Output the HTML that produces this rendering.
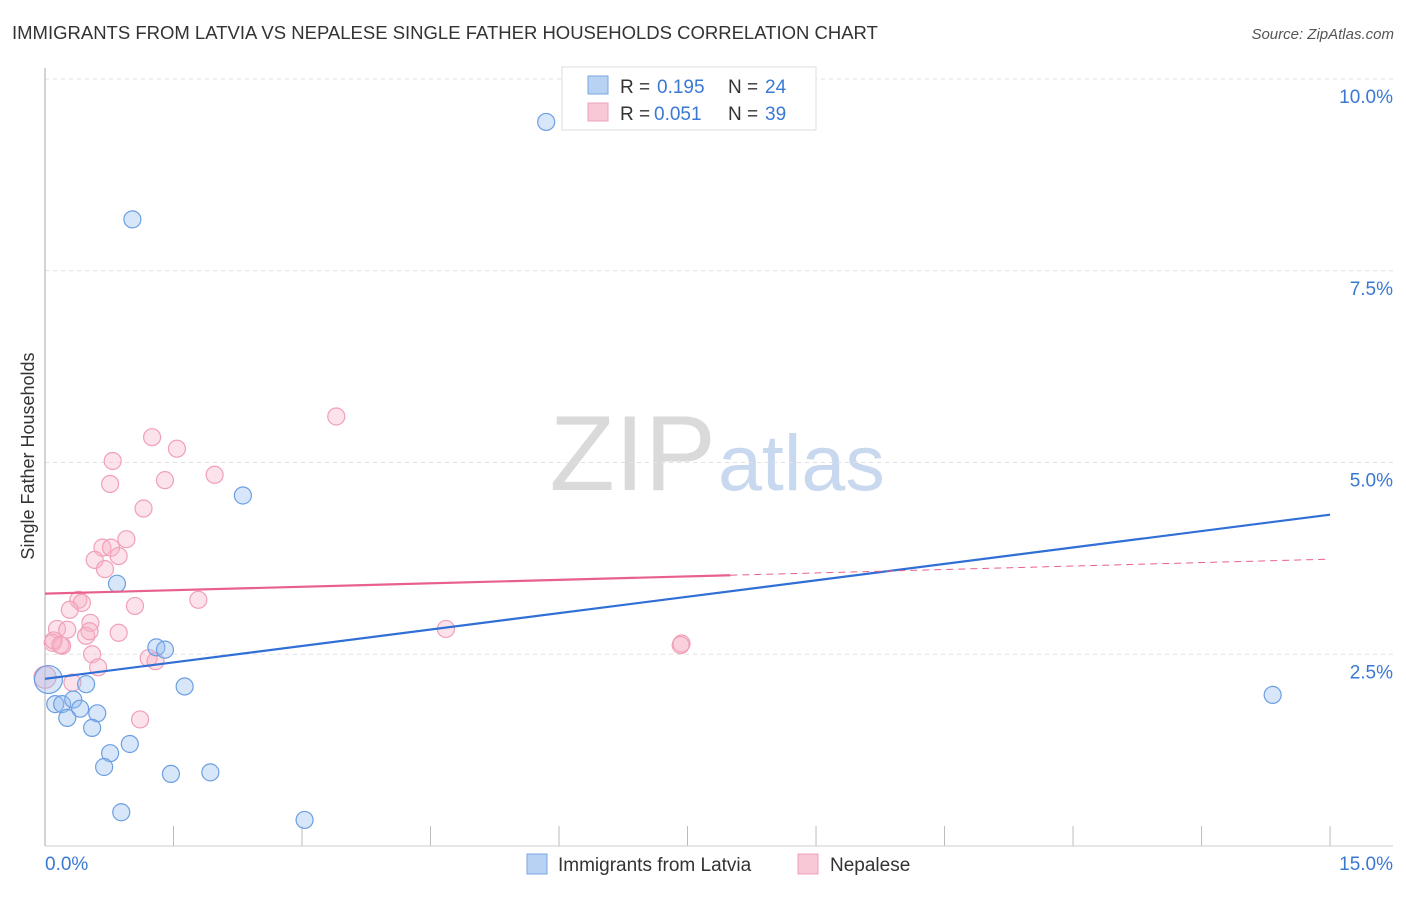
<!DOCTYPE html>
<html><head><meta charset="utf-8"><style>
body{margin:0;background:#fff;font-family:"Liberation Sans",sans-serif;}
svg text{font-family:"Liberation Sans",sans-serif;}
</style></head><body>
<svg id="chart" width="1406" height="892">
<text x="12" y="39" font-size="18.5" fill="#333">IMMIGRANTS FROM LATVIA VS NEPALESE SINGLE FATHER HOUSEHOLDS CORRELATION CHART</text>
<text x="1394" y="39" font-size="15" fill="#555" font-style="italic" text-anchor="end">Source: ZipAtlas.com</text>
<text x="716" y="490" font-size="107" fill="#dadada" text-anchor="end" font-family="Liberation Serif">ZIP</text>
<text x="718" y="490" font-size="79" fill="#c8d8ee">atlas</text>
<g id="grid"></g>
<line x1="45" y1="68" x2="45" y2="846" stroke="#aaa"/>
<line x1="45" y1="846" x2="1393" y2="846" stroke="#ccc"/>
<text transform="translate(34,456) rotate(-90)" font-size="18" fill="#333" text-anchor="middle">Single Father Households</text>
<g id="pts"></g>
<g id="lines"></g>
<g>
<rect x="562" y="67" width="254" height="63" fill="#fff" stroke="#ddd"/>
<rect x="588" y="76" width="20" height="18" fill="#b8d2f4" stroke="#7aa6e2"/>
<text y="93" font-size="19" fill="#333"><tspan x="620">R =</tspan><tspan x="657" fill="#3a78d4">0.195</tspan><tspan x="728">N =</tspan><tspan x="765" fill="#3a78d4">24</tspan></text>
<rect x="588" y="103" width="20" height="18" fill="#f8c8d6" stroke="#f0a0b8"/>
<text y="120" font-size="19" fill="#333"><tspan x="620">R =</tspan><tspan x="654" fill="#3a78d4">0.051</tspan><tspan x="728">N =</tspan><tspan x="765" fill="#3a78d4">39</tspan></text>
</g>
<g>
<rect x="527" y="854" width="20" height="20" fill="#b8d2f4" stroke="#7aa6e2"/>
<text x="558" y="871" font-size="19" fill="#333">Immigrants from Latvia</text>
<rect x="798" y="854" width="20" height="20" fill="#f8c8d6" stroke="#f0a0b8"/>
<text x="830" y="871" font-size="19" fill="#333">Nepalese</text>
</g>
</svg>
<script>
const yTicks=[2.5,5.0,7.5,10.0];
const xTickVals=[0,1.5,3,4.5,6,7.5,9,10.5,12,13.5,15];
const latviaX=[5.85,1.02,2.31,0.84,1.3,1.4,0.48,1.63,0.04,0.12,0.2,0.33,0.41,0.26,0.61,0.55,0.99,0.76,0.69,1.47,1.93,0.89,3.03,14.33];
const latviaY=[9.44,8.17,4.57,3.42,2.59,2.56,2.11,2.08,2.17,1.85,1.85,1.91,1.79,1.67,1.73,1.54,1.33,1.21,1.03,0.94,0.96,0.44,0.34,1.97];
const nepalX=[3.4,1.25,1.54,0.79,1.98,0.76,1.4,1.15,0.95,0.67,0.77,0.58,0.86,0.7,0.39,0.43,0.29,1.05,1.79,0.14,0.26,0.53,0.48,0.86,0.09,0.2,0.55,0.62,1.21,1.29,0.32,1.11,0.0,4.68,7.43,7.42,0.1,0.18,0.52];
const nepalY=[5.6,5.33,5.18,5.02,4.84,4.72,4.77,4.4,4.0,3.89,3.89,3.73,3.78,3.61,3.21,3.17,3.08,3.13,3.21,2.83,2.82,2.91,2.74,2.78,2.65,2.61,2.5,2.33,2.45,2.41,2.13,1.65,2.2,2.83,2.64,2.62,2.68,2.62,2.8];
const latviaTrend=[2.18,4.32];
const nepalTrend=[3.29,3.74];
const nepalSolidEnd=8.0;
const X=v=>45+v*85.67, Y=v=>846-v*76.7;
const NS='http://www.w3.org/2000/svg';
function mk(t,a,p){const e=document.createElementNS(NS,t);for(const k in a)e.setAttribute(k,a[k]);p.appendChild(e);return e;}
const grid=document.getElementById('grid');
yTicks.forEach(v=>{
const l=mk('line',{x1:45,x2:1393,y1:Y(v),y2:Y(v),stroke:'#e2e2e2','stroke-dasharray':'4 4'},grid);


const t=mk('text',{x:1393,y:Y(v)+24,'font-size':19,fill:'#3a78d4','text-anchor':'end'},grid);
t.textContent=v.toFixed(1)+'%';


});
xTickVals.forEach((v,i)=>{
const l=mk('line',{x1:X(v),x2:X(v),y1:826,y2:846,stroke:'#bbb'},grid);


});
[[0,'0.0%','start',45],[15,'15.0%','end',1393]].forEach(a=>{
const t=mk('text',{x:a[3],y:870,'font-size':19,fill:'#3a78d4','text-anchor':a[2]},grid);
t.textContent=a[1];


});
const pts=document.getElementById('pts');
nepalX.forEach((x,i)=>{
const c=mk('circle',{cx:X(x),cy:Y(nepalY[i]),r:i==32?11:8.5,fill:'rgba(248,178,200,0.38)',stroke:'#f0a0b8','stroke-width':1.2},pts);


});
latviaX.forEach((x,i)=>{
const c=mk('circle',{cx:X(x),cy:Y(latviaY[i]),r:i==8?14:8.5,fill:'rgba(150,190,240,0.38)',stroke:'#6c9fe2','stroke-width':1.2},pts);


});
const lines=document.getElementById('lines');
const lb=mk('line',{x1:X(0),y1:Y(latviaTrend[0]),x2:X(15),y2:Y(latviaTrend[1]),stroke:'#2f6fd6','stroke-width':2.2},lines);


const pm=v=>nepalTrend[0]+(nepalTrend[1]-nepalTrend[0])*v/15;
const lp=mk('line',{x1:X(0),y1:Y(pm(0)),x2:X(nepalSolidEnd),y2:Y(pm(nepalSolidEnd)),stroke:'#e8608c','stroke-width':2.2},lines);


const ld=mk('line',{x1:X(nepalSolidEnd),y1:Y(pm(nepalSolidEnd)),x2:X(15),y2:Y(pm(15)),stroke:'#e8608c','stroke-width':1,'stroke-dasharray':'7 5'},lines);


</script>
</body></html>
